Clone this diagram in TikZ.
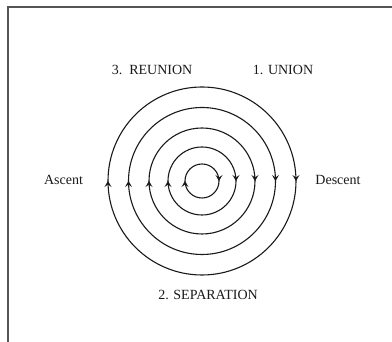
\documentclass[tikz,border=0pt]{standalone}
\usepackage{fontspec}
\setmainfont{Liberation Serif}
\usetikzlibrary{arrows.meta,decorations.markings}
\definecolor{ink}{HTML}{1A1A1A}
\definecolor{frame}{HTML}{555555}
\tikzset{ring/.style={draw=ink,line width=1.1pt,postaction={decorate},decoration={markings,mark=at position 0.25 with {\arrow{Stealth[length=6pt,width=7pt,inset=2.5pt]}},mark=at position 0.75 with {\arrow{Stealth[length=6pt,width=7pt,inset=2.5pt]}}}},lbl/.style={font=\fontsize{14}{16}\selectfont,text=ink,inner sep=0pt}}

\begin{document}
\begin{tikzpicture}[x=1pt,y=1pt]
\useasboundingbox (0,0) rectangle (392,342);
\fill[white] (0,0) rectangle (392,342);
\draw[frame,line width=1.2pt] (8,0)--(8,335)--(392,335);
\coordinate (c) at (202,161);
\foreach \r in {17,34,53,73.5,94}
  \draw[ring] (c) ++(90:\r) arc[start angle=90,end angle=-270,radius=\r];
\node[lbl] (reunion) at (152,272) {3.\enspace REUNION};
\node[lbl] (union) at (283,272) {1. UNION};
\node[lbl] (ascent) at (63.5,162) {Ascent};
\node[lbl] (descent) at (338,162) {Descent};
\node[lbl] (separation) at (208,47) {2. SEPARATION};
\end{tikzpicture}
\end{document}
